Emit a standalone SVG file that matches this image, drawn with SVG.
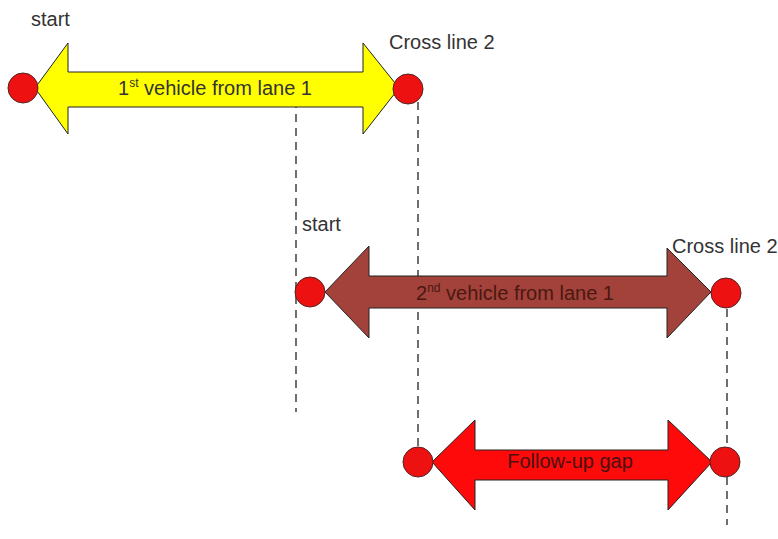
<svg xmlns="http://www.w3.org/2000/svg" width="778" height="539" viewBox="0 0 778 539">
<style>
.arrow{stroke:#222;stroke-width:1}
.dot{fill:#ee1111;stroke:#552222;stroke-width:1}
.dash{stroke:#222;stroke-width:1.3;stroke-dasharray:8,6;fill:none}
.lbl{font-family:"Liberation Sans",Arial,sans-serif;font-size:20px;fill:#333}
.in{font-family:"Liberation Sans",Arial,sans-serif;font-size:20px;text-anchor:middle}
.sup{font-size:12px}
</style>
<rect width="778" height="539" fill="#ffffff"/>
<g id="connectors">
<line class="dash" x1="296" y1="100" x2="296" y2="412"/>
<line class="dash" x1="418" y1="102" x2="418" y2="446"/>
<line class="dash" x1="727" y1="309" x2="727" y2="525"/>
</g>
<g id="vehicle1">
<polygon class="arrow" fill="#ffff00" points="35,88 68,43 68,72 363,72 363,43 399,88 363,134 363,107 68,107 68,134"/>
<circle class="dot" cx="23" cy="88" r="15"/>
<circle class="dot" cx="408" cy="89" r="15"/>
<text class="in" x="215" y="95" fill="#333">1<tspan class="sup" dy="-8">st</tspan><tspan dy="8"> vehicle from lane 1</tspan></text>
<text class="lbl" x="31" y="26">start</text>
<text class="lbl" x="389" y="49">Cross line 2</text>
</g>
<g id="vehicle2">
<polygon class="arrow" fill="#a3423a" points="325,292 369,246 369,276 667,276 667,248 711,292 667,338 667,308 369,308 369,338"/>
<circle class="dot" cx="310" cy="292" r="15"/>
<circle class="dot" cx="726" cy="293" r="15"/>
<text class="in" x="515" y="300" fill="#4a1812">2<tspan class="sup" dy="-8">nd</tspan><tspan dy="8"> vehicle from lane 1</tspan></text>
<text class="lbl" x="302" y="231">start</text>
<text class="lbl" x="672" y="253">Cross line 2</text>
</g>
<g id="followup">
<polygon class="arrow" fill="#ff0a0a" points="432,462 475,420 475,450 668,450 668,420 712,462 668,510 668,480 475,480 475,510"/>
<circle class="dot" cx="418" cy="462" r="15"/>
<circle class="dot" cx="725" cy="462" r="15"/>
<text class="in" x="570" y="468" fill="#4a1010">Follow-up gap</text>
</g>
</svg>
